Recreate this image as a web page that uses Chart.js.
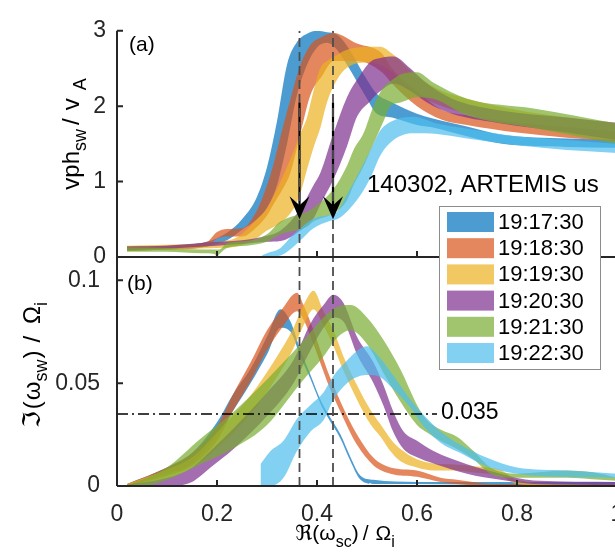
<!DOCTYPE html>
<html>
<head>
<meta charset="utf-8">
<script src="https://cdn.jsdelivr.net/npm/chart.js@4.4.1/dist/chart.umd.min.js"></script>
<style>
    html, body { margin: 0; padding: 0; background: #fff; overflow: hidden; }
    #wrap { position: relative; width: 615px; height: 558px; overflow: hidden; }
    #chart { position: absolute; left: 0; top: 0; }
</style>
</head>
<body>
<div id="wrap"><canvas id="chart" width="640" height="558"></canvas></div>
<script>
var times = ["19:17:30", "19:18:30", "19:19:30", "19:20:30", "19:21:30", "19:22:30"];
var rgb = ["0,114,189", "217,83,25", "237,177,32", "126,47,142", "119,172,48", "77,190,238"];

var xTicks = [0, 0.2, 0.4, 0.6, 0.8, 1];
var xTickLabels = ["0", "0.2", "0.4", "0.6", "0.8", "1"];
var vphTicks = [0, 1, 2, 3];
var vphTickLabels = ["0", "1", "2", "3"];
var gamTicks = [0, 0.05, 0.1];
var gamTickLabels = ["0", "0.05", "0.1"];

// panel (a): vph_sw / v_A, band upper/lower per time
var vphX1 = [0.02, 0.1, 0.18, 0.22, 0.25, 0.28, 0.30, 0.32, 0.34, 0.36, 0.38, 0.40, 0.42, 0.44, 0.46, 0.50, 0.52, 0.55, 0.60, 0.63, 0.70, 0.77, 0.90, 1.0];
var vphHi1 = [0.14, 0.15, 0.2, 0.32, 0.5, 0.8, 1.19, 1.8, 2.55, 2.85, 2.96, 3.0, 2.98, 2.95, 2.8, 2.35, 2.16, 2.05, 1.9, 1.84, 1.73, 1.62, 1.57, 1.55];
var vphLo1 = [0.08, 0.1, 0.14, 0.22, 0.36, 0.5, 0.65, 0.95, 1.5, 2.15, 2.55, 2.78, 2.84, 2.75, 2.55, 2.1, 1.9, 1.85, 1.75, 1.72, 1.6, 1.5, 1.46, 1.45];

var vphX2 = [0.02, 0.1, 0.18, 0.2, 0.22, 0.25, 0.28, 0.30, 0.313, 0.327, 0.347, 0.367, 0.387, 0.41, 0.433, 0.48, 0.53, 0.55, 0.60, 0.65, 0.70, 0.80, 0.90, 1.0];
var vphHi2 = [0.14, 0.15, 0.2, 0.33, 0.37, 0.38, 0.62, 0.95, 1.23, 1.6, 2.1, 2.55, 2.81, 2.92, 2.97, 2.83, 2.7, 2.5, 2.2, 1.95, 1.88, 1.78, 1.72, 1.66];
var vphLo2 = [0.08, 0.1, 0.14, 0.24, 0.27, 0.27, 0.4, 0.55, 0.7, 0.85, 1.12, 1.64, 2.15, 2.4, 2.6, 2.6, 2.45, 2.3, 2.0, 1.82, 1.75, 1.65, 1.58, 1.53];

var vphX3 = [0.02, 0.1, 0.2, 0.24, 0.28, 0.30, 0.327, 0.353, 0.367, 0.38, 0.393, 0.407, 0.42, 0.44, 0.46, 0.50, 0.527, 0.55, 0.60, 0.65, 0.70, 0.80, 0.90, 1.0];
var vphHi3 = [0.15, 0.16, 0.2, 0.26, 0.5, 0.65, 1.0, 1.4, 1.64, 1.85, 2.2, 2.51, 2.6, 2.68, 2.75, 2.79, 2.79, 2.7, 2.4, 2.2, 2.1, 1.95, 1.85, 1.77];
var vphLo3 = [0.08, 0.1, 0.12, 0.14, 0.25, 0.35, 0.45, 0.64, 0.85, 1.16, 1.45, 1.72, 2.05, 2.35, 2.51, 2.58, 2.55, 2.45, 2.15, 2.0, 1.9, 1.75, 1.65, 1.57];

var vphX4 = [0.02, 0.1, 0.2, 0.25, 0.3, 0.327, 0.367, 0.393, 0.407, 0.433, 0.46, 0.48, 0.507, 0.527, 0.553, 0.587, 0.62, 0.67, 0.76, 0.9, 1.0];
var vphHi4 = [0.14, 0.15, 0.2, 0.22, 0.28, 0.35, 0.64, 0.95, 1.12, 1.64, 2.12, 2.35, 2.59, 2.64, 2.66, 2.5, 2.3, 2.1, 1.95, 1.85, 1.78];
var vphLo4 = [0.09, 0.11, 0.15, 0.17, 0.2, 0.21, 0.35, 0.51, 0.7, 1.03, 1.47, 1.86, 2.07, 2.2, 2.3, 2.2, 2.05, 1.9, 1.78, 1.65, 1.55];

var vphX5 = [0.02, 0.1, 0.17, 0.195, 0.2, 0.205, 0.22, 0.26, 0.3, 0.327, 0.38, 0.393, 0.433, 0.46, 0.473, 0.493, 0.513, 0.533, 0.547, 0.567, 0.6, 0.633, 0.7, 0.833, 1.0];
var vphHi5 = [0.13, 0.12, 0.1, 0.1, 0.1, 0.1, 0.18, 0.21, 0.3, 0.47, 0.6, 0.65, 0.9, 1.21, 1.42, 1.64, 2.0, 2.25, 2.33, 2.42, 2.45, 2.31, 2.1, 1.97, 1.77];
var vphLo5 = [0.07, 0.07, 0.05, 0.04, 0.0, 0.04, 0.12, 0.15, 0.2, 0.3, 0.4, 0.47, 0.58, 0.75, 0.95, 1.2, 1.5, 1.8, 2.0, 2.05, 2.12, 2.1, 1.88, 1.71, 1.5];

var vphX6 = [0.29, 0.30, 0.327, 0.35, 0.367, 0.393, 0.427, 0.44, 0.46, 0.487, 0.507, 0.527, 0.553, 0.593, 0.64, 0.7, 0.8, 0.9, 1.0];
var vphHi6 = [0.02, 0.05, 0.12, 0.28, 0.38, 0.51, 0.56, 0.6, 0.83, 1.16, 1.42, 1.68, 1.81, 1.86, 1.77, 1.7, 1.6, 1.55, 1.5];
var vphLo6 = [0.0, 0.0, 0.02, 0.12, 0.22, 0.38, 0.48, 0.5, 0.6, 0.82, 1.05, 1.35, 1.55, 1.64, 1.63, 1.57, 1.48, 1.42, 1.38];

// panel (b): growth rate / Omega_i
var gamX1 = [0.02, 0.1, 0.15, 0.2, 0.233, 0.267, 0.3, 0.327, 0.347, 0.367, 0.387, 0.407, 0.42, 0.447, 0.467, 0.487, 0.513, 0.6, 0.8, 1.0];
var gamHi1 = [0.001, 0.009, 0.016, 0.031, 0.045, 0.057, 0.0726, 0.086, 0.08, 0.066, 0.054, 0.042, 0.036, 0.025, 0.014, 0.005, 0.003, 0.002, 0.002, 0.002];
var gamLo1 = [0, 0.006, 0.011, 0.025, 0.037, 0.05, 0.064, 0.077, 0.075, 0.063, 0.052, 0.04, 0.034, 0.023, 0.012, 0.003, 0.001, 0.001, 0.0005, 0.0005];

var gamX2 = [0.02, 0.1, 0.15, 0.2, 0.233, 0.267, 0.3, 0.33, 0.36, 0.373, 0.393, 0.42, 0.447, 0.48, 0.513, 0.547, 0.6, 0.647, 0.68, 0.75, 0.8, 1.0];
var gamHi2 = [0.001, 0.009, 0.016, 0.029, 0.045, 0.06, 0.0757, 0.086, 0.094, 0.088, 0.0757, 0.0566, 0.041, 0.025, 0.0137, 0.009, 0.0075, 0.004, 0.003, 0.001, 0.001, 0.0005];
var gamLo2 = [0, 0.005, 0.01, 0.022, 0.037, 0.051, 0.066, 0.077, 0.085, 0.081, 0.069, 0.051, 0.036, 0.02, 0.01, 0.006, 0.0045, 0.002, 0.001, 0, 0, 0];

var gamX3 = [0.02, 0.1, 0.15, 0.207, 0.267, 0.32, 0.353, 0.373, 0.393, 0.413, 0.433, 0.453, 0.48, 0.507, 0.527, 0.55, 0.567, 0.6, 0.633, 0.673, 0.72, 0.767, 0.8, 0.9, 1.0];
var gamHi3 = [0.001, 0.008, 0.014, 0.028, 0.044, 0.063, 0.077, 0.088, 0.095, 0.085, 0.0757, 0.063, 0.049, 0.037, 0.03, 0.022, 0.018, 0.013, 0.011, 0.0105, 0.0095, 0.0078, 0.003, 0.001, 0.001];
var gamLo3 = [0, 0.004, 0.009, 0.02, 0.035, 0.053, 0.067, 0.078, 0.086, 0.078, 0.068, 0.056, 0.042, 0.03, 0.024, 0.016, 0.012, 0.009, 0.0075, 0.0075, 0.0065, 0.005, 0.001, 0, 0];

var gamX4 = [0.02, 0.1, 0.15, 0.187, 0.233, 0.3, 0.353, 0.387, 0.413, 0.433, 0.453, 0.48, 0.513, 0.533, 0.553, 0.573, 0.6, 0.633, 0.7, 0.767, 0.833, 1.0];
var gamHi4 = [0.0005, 0.004, 0.009, 0.017, 0.028, 0.0455, 0.0613, 0.079, 0.088, 0.093, 0.089, 0.0726, 0.06, 0.049, 0.036, 0.0265, 0.022, 0.017, 0.0106, 0.006, 0.0027, 0.002];
var gamLo4 = [0, 0, 0.002, 0.009, 0.018, 0.034, 0.05, 0.066, 0.077, 0.082, 0.08, 0.064, 0.05, 0.039, 0.026, 0.018, 0.014, 0.011, 0.006, 0.003, 0.001, 0.0005];

var gamX5 = [0.02, 0.05, 0.1, 0.167, 0.233, 0.3, 0.367, 0.413, 0.44, 0.467, 0.5, 0.533, 0.567, 0.6, 0.62, 0.647, 0.68, 0.713, 0.747, 0.8, 0.9, 0.967, 1.0];
var gamHi5 = [0.0005, 0.003, 0.009, 0.023, 0.036, 0.0518, 0.069, 0.082, 0.087, 0.088, 0.082, 0.071, 0.0566, 0.0394, 0.032, 0.0275, 0.024, 0.017, 0.009, 0.006, 0.0075, 0.006, 0.004];
var gamLo5 = [0, 0, 0.003, 0.0106, 0.0184, 0.0297, 0.05, 0.063, 0.072, 0.0757, 0.069, 0.055, 0.041, 0.0297, 0.026, 0.022, 0.018, 0.013, 0.006, 0.004, 0.004, 0.003, 0.0025];

var gamX6 = [0.287, 0.307, 0.333, 0.36, 0.387, 0.413, 0.433, 0.46, 0.487, 0.5, 0.52, 0.553, 0.587, 0.613, 0.647, 0.687, 0.74, 0.8, 0.9, 1.0];
var gamHi6 = [0.0106, 0.017, 0.022, 0.0327, 0.0394, 0.0455, 0.0536, 0.061, 0.067, 0.068, 0.064, 0.0536, 0.042, 0.0346, 0.0265, 0.02, 0.0137, 0.009, 0.0075, 0.006];
var gamLo6 = [0, 0, 0.004, 0.017, 0.0265, 0.032, 0.042, 0.05, 0.0536, 0.054, 0.0536, 0.047, 0.038, 0.029, 0.021, 0.016, 0.0095, 0.006, 0.0045, 0.004];

// reference marks
var markX = [0.365, 0.432];
var arrowTop = 2.05;
var arrowTip = 0.5;
var threshold = 0.035;
var thresholdEnd = 0.64;
var vphMax = 3;
var gamMax = 0.1114;

var vphSets = [[vphX1, vphHi1, vphLo1], [vphX2, vphHi2, vphLo2], [vphX3, vphHi3, vphLo3],
               [vphX4, vphHi4, vphLo4], [vphX5, vphHi5, vphLo5], [vphX6, vphHi6, vphLo6]];
var gamSets = [[gamX1, gamHi1, gamLo1], [gamX2, gamHi2, gamLo2], [gamX3, gamHi3, gamLo3],
               [gamX4, gamHi4, gamLo4], [gamX5, gamHi5, gamLo5], [gamX6, gamHi6, gamLo6]];

var FONT = '"Liberation Sans", Arial, "DejaVu Sans", sans-serif';
var INK = "#262626";

function pts(xs, ys) {
    return xs.map(function (x, i) { return { x: x, y: ys[i] }; });
}
function fillColor(i) {
    return "rgba(" + rgb[i] + ",0.7)";
}

var datasets = [];
function addBand(set, axis, i) {
    var base = {
        yAxisID: axis,
        borderWidth: 0,
        borderColor: "rgba(0,0,0,0)",
        backgroundColor: fillColor(i),
        pointRadius: 0,
        cubicInterpolationMode: "monotone",
        order: 10 - i
    };
    datasets.push(Object.assign({ label: times[i], data: pts(set[0], set[1]), fill: false }, base));
    datasets.push(Object.assign({ label: times[i], data: pts(set[0], set[2]), fill: "-1" }, base));
}
for (var i = 0; i < times.length; i++) {
    addBand(vphSets[i], "ya", i);
    addBand(gamSets[i], "yb", i);
}

function refLine(data, axis, color, width, dash) {
    datasets.push({ data: data, yAxisID: axis, borderColor: color, borderWidth: width,
        borderDash: dash, pointRadius: 0, fill: false, order: 0 });
}
markX.forEach(function (m) {
    refLine([{ x: m, y: 0 }, { x: m, y: vphMax }], "ya", "#4d4d4d", 1.8, [9, 5]);
    refLine([{ x: m, y: 0 }, { x: m, y: gamMax }], "yb", "#4d4d4d", 1.8, [9, 5]);
    refLine([{ x: m, y: arrowTop }, { x: m, y: arrowTip + 0.15 }], "ya", "#000000", 2.2, []);
});
refLine([{ x: 0, y: threshold }, { x: thresholdEnd, y: threshold }], "yb", "#000000", 1.5, [11, 4, 2, 4]);

// pieces: [text, size, subscript, gapAfter]; laid out along the baseline and centred on `mid`
function drawLabel(c, pieces, mid, baseline, rotated) {
    c.save();
    c.fillStyle = "#000";
    c.textAlign = "left";
    c.textBaseline = "alphabetic";
    var total = 0;
    pieces.forEach(function (p) {
        c.font = p[1] + "px " + FONT;
        p.w = c.measureText(p[0]).width;
        total += p.w + (p[3] || 0);
    });
    total -= pieces[pieces.length - 1][3] || 0;
    var pos = -total / 2;
    pieces.forEach(function (p) {
        c.font = p[1] + "px " + FONT;
        var shift = p[2] ? 7 : 0;
        if (rotated) {
            c.save();
            c.translate(baseline + shift, mid - pos);
            c.rotate(-Math.PI / 2);
            c.fillText(p[0], 0, 0);
            c.restore();
        } else {
            c.fillText(p[0], mid + pos, baseline + shift);
        }
        pos += p.w + (p[3] || 0);
    });
    c.restore();
}

var decor = {
    id: "decor",
    afterDatasetsDraw: function (chart) {
        var c = chart.ctx, sx = chart.scales.x, ya = chart.scales.ya, yb = chart.scales.yb;
        var L = chart.chartArea.left, R = chart.chartArea.right;
        c.save();
        // arrow heads
        c.fillStyle = "#000";
        markX.forEach(function (m) {
            var px = sx.getPixelForValue(m), py = ya.getPixelForValue(arrowTip);
            c.beginPath();
            c.moveTo(px, py);
            c.lineTo(px - 10, py - 23);
            c.lineTo(px, py - 14);
            c.lineTo(px + 10, py - 23);
            c.closePath();
            c.fill();
        });
        // axes with inward ticks
        c.strokeStyle = INK;
        c.lineWidth = 2;
        c.beginPath();
        c.moveTo(L, ya.top); c.lineTo(L, yb.bottom);
        c.moveTo(L, ya.bottom); c.lineTo(R, ya.bottom);
        c.moveTo(L, yb.bottom); c.lineTo(R, yb.bottom);
        xTicks.forEach(function (t) {
            var px = sx.getPixelForValue(t);
            c.moveTo(px, ya.bottom); c.lineTo(px, ya.bottom - 6);
            c.moveTo(px, yb.bottom); c.lineTo(px, yb.bottom - 6);
        });
        vphTicks.forEach(function (t) {
            var py = ya.getPixelForValue(t);
            c.moveTo(L, py); c.lineTo(L + 6, py);
        });
        gamTicks.forEach(function (t) {
            var py = yb.getPixelForValue(t);
            c.moveTo(L, py); c.lineTo(L + 6, py);
        });
        c.stroke();
        c.restore();
    },
    afterDraw: function (chart) {
        var c = chart.ctx;
        c.save();
        c.fillStyle = "#000";
        c.textBaseline = "middle";
        c.font = "21px " + FONT;
        c.fillText("(a)", 129, 45);
        c.fillText("(b)", 127, 284);
        c.textBaseline = "alphabetic";
        c.font = "24px " + FONT;
        c.fillText("140302, ARTEMIS us", 367, 192);
        c.textBaseline = "middle";
        c.font = "23px " + FONT;
        c.fillText("0.035", 441, 413);

        // legend
        var lx = 439, ly = 206, lw = 161, lh = 163;
        c.fillStyle = "#fff";
        c.fillRect(lx, ly, lw, lh);
        c.strokeStyle = "#8c8c8c";
        c.lineWidth = 1;
        c.strokeRect(lx + 0.5, ly + 0.5, lw, lh);
        c.font = "22px " + FONT;
        times.forEach(function (t, i) {
            var cy = 222 + i * 26.2;
            c.fillStyle = fillColor(i);
            c.fillRect(447, cy - 10, 47, 20);
            c.fillStyle = "#000";
            c.fillText(t, 498, cy + 1);
        });
        c.restore();

        drawLabel(c, [["vph", 24, 0, 0], ["sw", 18, 1, 4], ["/", 24, 0, 8], ["v", 24, 0, 8], ["A", 18, 1, 0]], 134, 79, true);
        drawLabel(c, [["\u2111", 24, 0, 2], ["(", 24, 0, 1], ["\u03c9", 24, 0, 0], ["sw", 18, 1, 1],
                      [")", 24, 0, 8], ["/", 24, 0, 12], ["\u03a9", 24, 0, 0], ["i", 18, 1, 0]], 365, 40, true);
        drawLabel(c, [["\u211c", 21, 0, 0], ["(", 21, 0, 0], ["\u03c9", 21, 0, 0], ["sc", 16, 1, 0],
                      [")", 21, 0, 4], ["/", 21, 0, 7], ["\u03a9", 21, 0, 0], ["i", 16, 1, 0]], 345, 540, false);
    }
};

function tickSetter(list) {
    return function (scale) {
        scale.ticks = list.map(function (v) { return { value: v }; });
    };
}

var ctx = document.getElementById("chart").getContext("2d");
var myChart = new Chart(ctx, {
    type: "line",
    data: { datasets: datasets },
    plugins: [decor],
    options: {
        responsive: false,
        animation: false,
        events: [],
        layout: { padding: { left: 0, right: 23, top: 21, bottom: 0 } },
        plugins: { legend: { display: false }, tooltip: { enabled: false } },
        scales: {
            x: {
                type: "linear",
                min: 0,
                max: 1,
                afterBuildTicks: tickSetter(xTicks),
                afterFit: function (s) { s.height = 72; },
                grid: { display: false, drawTicks: false },
                border: { display: false },
                ticks: {
                    autoSkip: false,
                    maxRotation: 0,
                    padding: 15,
                    color: INK,
                    font: { family: FONT, size: 23 },
                    callback: function (v, i) { return xTickLabels[i]; }
                }
            },
            yb: {
                type: "linear",
                position: "left",
                stack: "panels",
                stackWeight: 234,
                min: 0,
                max: gamMax,
                afterBuildTicks: tickSetter(gamTicks),
                afterFit: function (s) { s.width = 117; },
                grid: { display: false, drawTicks: false },
                border: { display: false },
                ticks: {
                    autoSkip: false,
                    padding: 17,
                    color: INK,
                    font: { family: FONT, size: 23 },
                    callback: function (v, i) { return gamTickLabels[i]; }
                }
            },
            ya: {
                type: "linear",
                position: "left",
                stack: "panels",
                stackWeight: 231,
                min: 0,
                max: vphMax,
                afterBuildTicks: tickSetter(vphTicks),
                afterFit: function (s) { s.width = 117; },
                grid: { display: false, drawTicks: false },
                border: { display: false },
                ticks: {
                    autoSkip: false,
                    padding: 11,
                    color: INK,
                    font: { family: FONT, size: 23 },
                    callback: function (v, i) { return vphTickLabels[i]; }
                }
            }
        }
    }
});
</script>
</body>
</html>
